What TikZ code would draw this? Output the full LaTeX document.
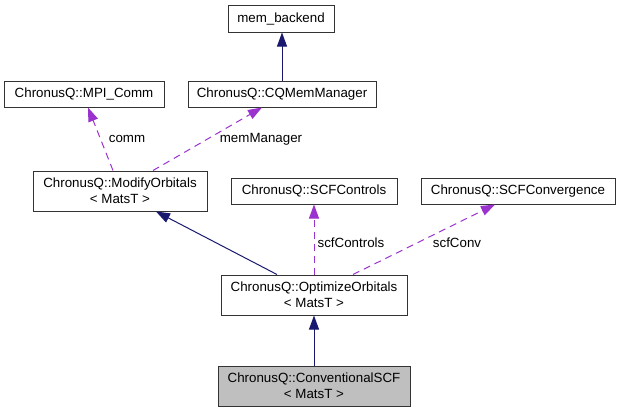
\documentclass[tikz,border=0pt]{standalone}
\usepackage{fontspec}
\setmainfont{Liberation Sans}
\usetikzlibrary{arrows.meta,calc}
\definecolor{inhcol}{HTML}{191970}
\definecolor{usecol}{HTML}{9A32CD}
\definecolor{selfcol}{HTML}{BFBFBF}
\begin{document}
\begin{tikzpicture}[x=0.75pt,y=-0.75pt,
  cls/.style={draw=black!80, line width=0.75pt, fill=white, inner sep=0pt,
    align=center, font=\fontsize{10}{12}\selectfont},
  self/.style={cls, fill=selfcol},
  inh/.style={draw=inhcol, line width=0.75pt,
    -{Triangle[length=10.5pt,width=7.5pt]}, color=inhcol},
  use/.style={draw=usecol, line width=0.75pt, dash pattern=on 5.25pt off 3.75pt,
    -{Triangle[length=10.5pt,width=7.5pt]}, color=usecol},
  lbl/.style={font=\fontsize{10}{12}\selectfont, inner sep=0pt}]
\useasboundingbox (0,0) rectangle (620,412);

% classes
\node[cls, minimum width=106*0.75pt, minimum height=27*0.75pt] (memb) at (281,18.5) {mem\_backend};
\node[cls, minimum width=160*0.75pt, minimum height=26*0.75pt] (mpi) at (84,94) {ChronusQ::MPI\_Comm};
\node[cls, minimum width=188*0.75pt, minimum height=26*0.75pt] (cqmem) at (282,94) {ChronusQ::CQMemManager};
\node[cls, minimum width=174*0.75pt, minimum height=40*0.75pt] (modify) at (120,191) {ChronusQ::ModifyOrbitals\\< MatsT >};
\node[cls, minimum width=166*0.75pt, minimum height=26*0.75pt] (scfctl) at (314,191) {ChronusQ::SCFControls};
\node[cls, minimum width=194*0.75pt, minimum height=26*0.75pt] (scfconv) at (518,191) {ChronusQ::SCFConvergence};
\node[cls, minimum width=186*0.75pt, minimum height=40*0.75pt] (optimize) at (314,295) {ChronusQ::OptimizeOrbitals\\< MatsT >};
\node[self, minimum width=192*0.75pt, minimum height=40*0.75pt] (conv) at (314,386) {ChronusQ::ConventionalSCF\\< MatsT >};

% inheritance
\draw[inh] (cqmem.north) -- (cqmem.north |- memb.south);
\draw[inh] ($(optimize.north)+(-37,0)$) -- ($(modify.south)+(36,0)$);
\draw[inh] (conv.north) -- (optimize.south);

% usage
\draw[use] ($(modify.north)+(-7,0)$) -- ($(mpi.south)+(4,0)$);
\node[lbl] (lcomm) at (127,139) {comm};
\draw[use] ($(modify.north)+(33,0)$) -- ($(cqmem.south)+(-20,0)$);
\node[lbl] (lmem) at (261,139) {memManager};
\draw[use] (optimize.north) -- (scfctl.south);
\node[lbl] (lctl) at (351,243) {scfControls};
\draw[use] ($(optimize.north)+(39,0)$) -- ($(scfconv.south)+(-23,0)$);
\node[lbl] (lconv) at (457,243) {scfConv};
\end{tikzpicture}
\end{document}
